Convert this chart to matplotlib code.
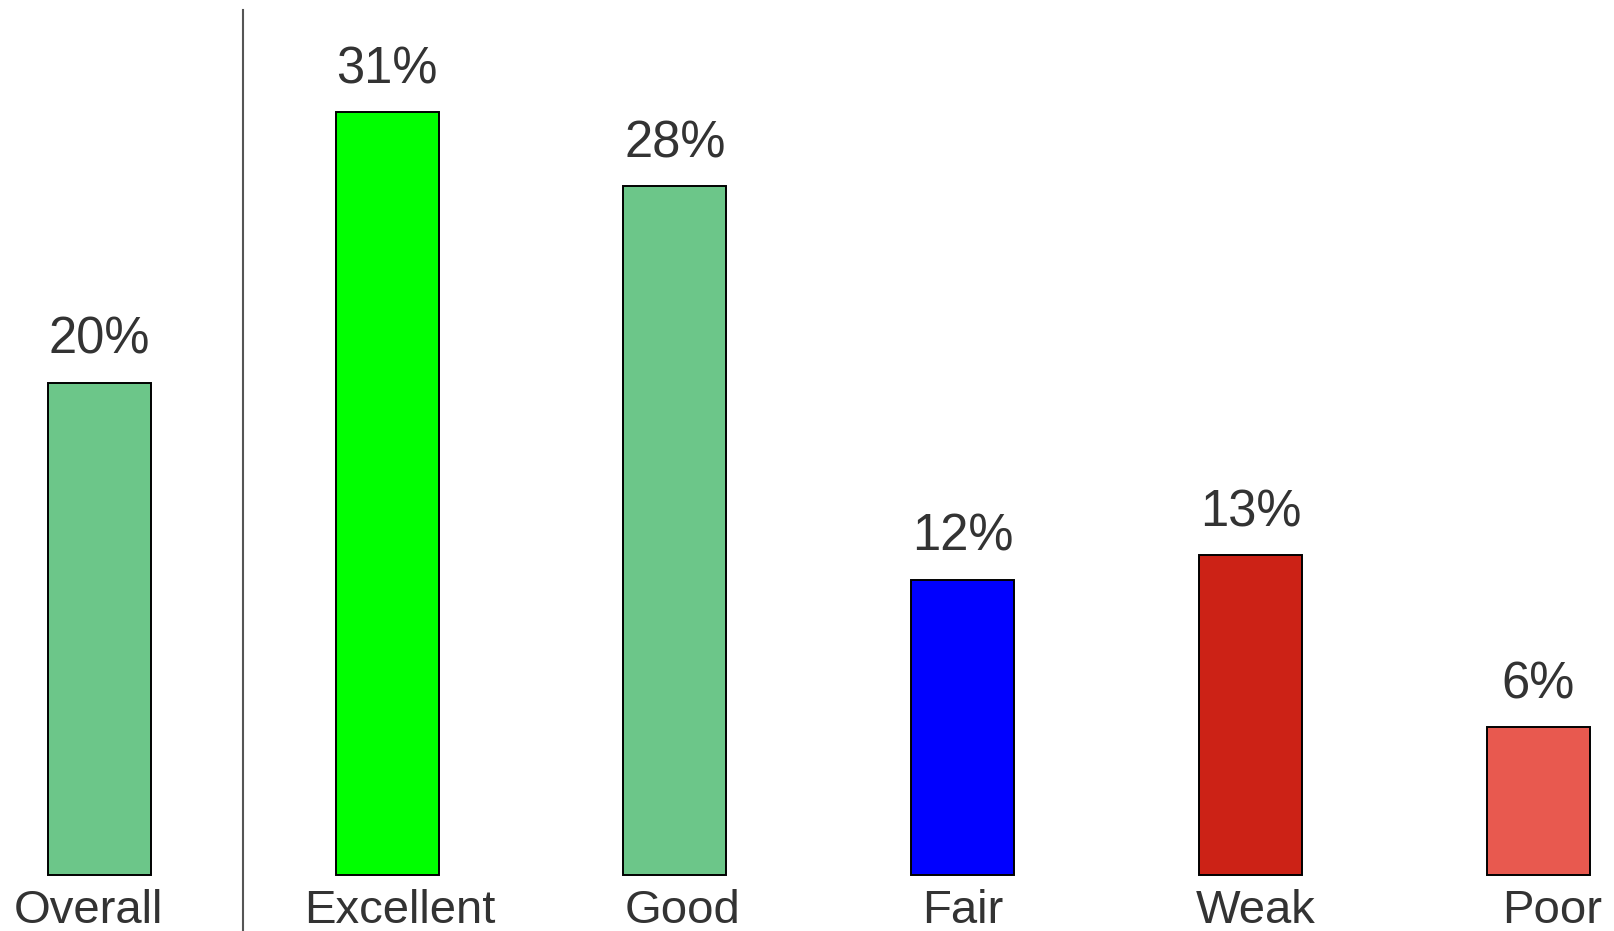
import matplotlib
matplotlib.use("Agg")
import matplotlib.pyplot as plt

categories = ["Overall", "Excellent", "Good", "Fair", "Weak", "Poor"]
values = [20, 31, 28, 12, 13, 6]
colors = ["#6cc689", "#00ff00", "#6cc689", "#0000ff", "#cc2216", "#e8594f"]
# small horizontal nudges of the category names, in data units
label_shift = [-0.04, 0.045, 0.025, 0.0, 0.02, 0.05]

plt.rcParams["font.family"] = ["Liberation Sans", "DejaVu Sans"]
text_color = "#333333"

fig = plt.figure(figsize=(16.14, 9.31), dpi=100)
ax = fig.add_axes([0, 0, 1, 1])

x = list(range(len(categories)))
ax.bar(x, values, width=0.358, color=colors, edgecolor="black", linewidth=1.4)

for xi, v in zip(x, values):
    ax.annotate(f"{v}%", (xi, v), xytext=(0, 21), textcoords="offset points",
                ha="center", va="baseline", fontsize=36.5, color=text_color)

for xi, name, dx in zip(x, categories, label_shift):
    ax.text(xi + dx, -1.95, name, ha="center", va="baseline",
            fontsize=34, color=text_color)

# separator between overall and the groups
ax.plot([0.5, 0.5], [-2.3, 35.16], color="#555555", linewidth=1.5)

ax.set_xlim(-0.346, 5.264)
ax.set_ylim(-2.276, 35.57)
ax.axis("off")

fig.savefig("out.png", dpi=100)
